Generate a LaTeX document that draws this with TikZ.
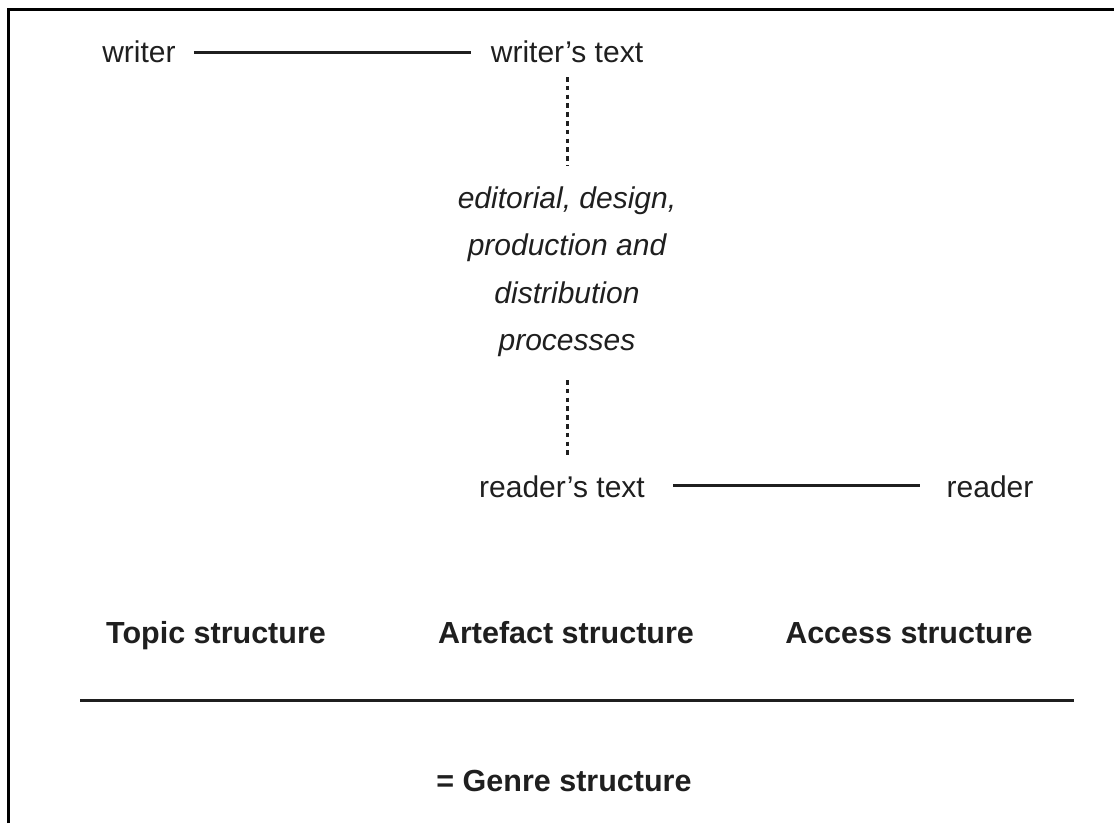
\documentclass[tikz,border=0pt]{standalone}
\usepackage{fontspec}
\setmainfont{Liberation Sans}
\begin{document}
\begin{tikzpicture}[x=1pt,y=-1pt,
  lbl/.style={inner sep=0pt, anchor=base, font=\fontsize{30}{36}\selectfont, text=black!88},
  boldlbl/.style={lbl, font=\fontsize{30.5}{36}\selectfont\bfseries},
  proc/.style={lbl, font=\fontsize{30}{36}\selectfont\itshape},
  conn/.style={line width=3pt, draw=black!88},
  dotline/.style={line width=3pt, draw=black!88, dash pattern=on 4.5pt off 4.3pt},
  frame/.style={line width=3pt, draw=black}]
\useasboundingbox (0,0) rectangle (1114,823);
% frame (only top and left edges visible)
\coordinate (fb) at (8,823);
\coordinate (fc) at (8,9);
\coordinate (fr) at (1114,9);
\draw[frame] (fb) -- (fc) -- (fr);
% top row
\node[lbl] (writer) at (139,62) {writer};
\node[lbl] (wtext) at (567,62) {writer’s text};
\draw[conn] ([xshift=18pt,yshift=10pt]writer.base east) -- ([xshift=-20pt,yshift=10pt]wtext.base west);
% processes
\node[proc] (p1) at (567,208) {editorial, design,};
\node[proc] (p2) at (567,255) {production and};
\node[proc] (p3) at (567,303) {distribution};
\node[proc] (p4) at (567,350) {processes};
\draw[dotline] ([yshift=-15pt]wtext.base) -- ([yshift=20pt]p1.north);
% reader row
\node[lbl] (rtext) at (562,497) {reader’s text};
\node[lbl] (reader) at (990,497) {reader};
\draw[dotline] ([yshift=-30pt]p4.base) -- ([yshift=18pt]p4.base |- rtext.north);
\draw[conn] ([xshift=28pt,yshift=12pt]rtext.base east) -- ([xshift=-26pt,yshift=12pt]reader.base west);
% structures
\node[boldlbl] (topic) at (216,643) {Topic structure};
\node[boldlbl] (artefact) at (566,643) {Artefact structure};
\node[boldlbl] (access) at (909,643) {Access structure};
\coordinate (rl) at (80,700);
\coordinate (rr) at (1074,700);
\draw[conn] (rl) -- (rr);
\node[boldlbl] (genre) at (564,791) {= Genre structure};
\end{tikzpicture}
\end{document}
